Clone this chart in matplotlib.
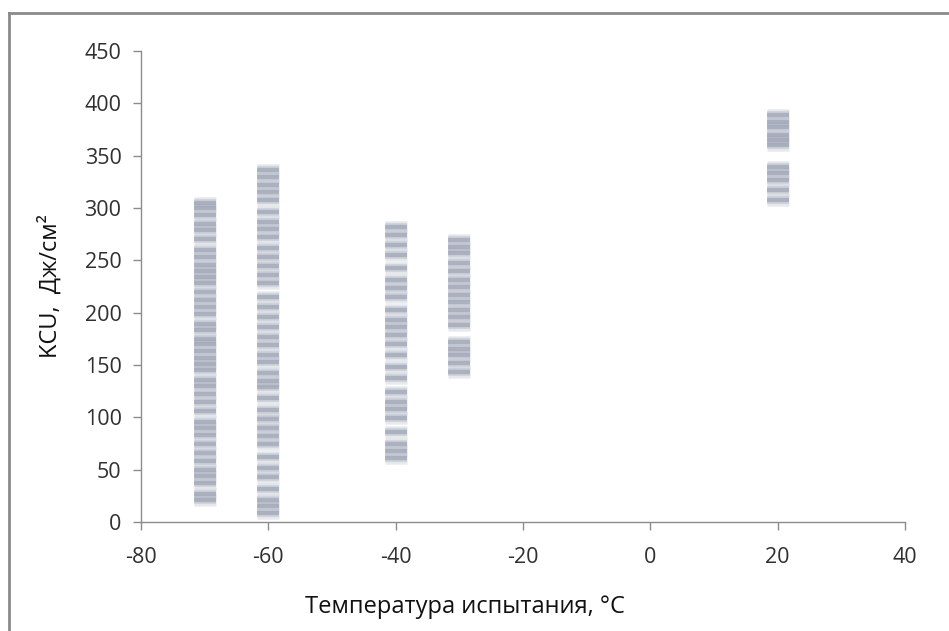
import matplotlib.pyplot as plt
from matplotlib.lines import Line2D

#########################################################
# Data: impact strength KCU by test temperature
#########################################################

temps = [-70, -60, -40, -30, 20]

kcu_m70 = [305, 300, 293, 285, 279, 270, 260, 253, 246, 240, 234, 228, 220, 212, 205,
           199, 189, 183, 175, 170, 163, 157, 151, 145, 136, 130, 122, 115, 106, 96,
           90, 83, 75, 66, 58, 50, 44, 37, 27, 21]
kcu_m60 = [336, 330, 322, 315, 308, 296, 287, 280, 272, 262, 253, 245, 236, 228, 215,
           205, 196, 186, 177, 169, 160, 153, 142, 135, 129, 118, 107, 98, 90, 82, 75,
           62, 52, 43, 32, 21, 15, 9]
kcu_m40 = [282, 274, 265, 255, 243, 231, 224, 215, 203, 193, 186, 179, 170, 160, 148,
           138, 124, 115, 108, 99, 86, 75, 68, 61]
kcu_m30 = [269, 263, 257, 247, 240, 231, 225, 217, 210, 203, 196, 188, 172,
           165, 160, 152, 143]
kcu_p20 = [389, 382, 377, 370, 365, 360, 339, 333, 327, 317, 308]

series = [kcu_m70, kcu_m60, kcu_m40, kcu_m30, kcu_p20]

#########################################################
# Plot
#########################################################

plt.rcParams['font.family'] = ['Open Sans', 'DejaVu Sans']
plt.rcParams['axes.unicode_minus'] = False

fig = plt.figure(figsize=(9.49, 6.31), dpi=100)
ax = fig.add_axes([141 / 949, 1 - 522 / 631, (905 - 141) / 949, (522 - 51) / 631])

# each point is a dash with a soft vertical gradient: stack light -> dark layers
layers = [(9.0, '#d9dce3', 0.6), (6.0, '#babfcb', 0.5), (3.2, '#8a90a5', 0.5)]
for t, vals in zip(temps, series):
    xs = [t] * len(vals)
    for mew, col, a in layers:
        ax.plot(xs, vals, linestyle='none', marker='_', markersize=16.5,
                markeredgewidth=mew, color=col, alpha=a)

ax.set_xlim(-80, 40)
ax.set_ylim(0, 450)
ax.set_xticks(range(-80, 41, 20))
ax.set_yticks(range(0, 451, 50))

for s in ['top', 'right']:
    ax.spines[s].set_visible(False)
for s in ['left', 'bottom']:
    ax.spines[s].set_color('#8c8c8c')
    ax.spines[s].set_linewidth(1.0)
ax.tick_params(colors='#8c8c8c', labelcolor='#303030', labelsize=15.5,
               length=6, width=1.0, direction='out')
ax.tick_params(axis='x', pad=12)
ax.tick_params(axis='y', pad=8)

ax.set_xlabel('Температура испытания, °C', fontsize=17, color='#111111', labelpad=14)
ax.xaxis.set_label_coords((465 - 141) / (905 - 141), -0.155)
ax.set_ylabel('KCU,  Дж/см²', fontsize=17, color='#111111', labelpad=16)

# chart frame (left and top edges)
fig.add_artist(Line2D([9 / 949, 9 / 949], [0, 1 - 13 / 631], transform=fig.transFigure,
                      color='#8a8a8a', linewidth=2))
fig.add_artist(Line2D([9 / 949, 1], [1 - 13 / 631, 1 - 13 / 631], transform=fig.transFigure,
                      color='#8a8a8a', linewidth=2))

fig.savefig('out.png', dpi=100)
